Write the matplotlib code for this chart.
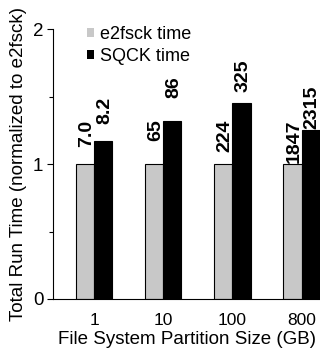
import matplotlib
matplotlib.use("Agg")
import matplotlib.pyplot as plt
from matplotlib.patches import Patch
import numpy as np

plt.rcParams['font.family'] = ['Liberation Sans', 'DejaVu Sans']

categories = ["1", "10", "100", "800"]
e2fsck_norm = [1.0, 1.0, 1.0, 1.0]
sqck_norm = [1.17, 1.32, 1.45, 1.25]
e2fsck_labels = ["7.0", "65", "224", "1847"]
sqck_labels = ["8.2", "86", "325", "2315"]

fig = plt.figure(figsize=(3.2, 3.52), dpi=100)
ax = fig.add_axes([0.166, 0.1506, 0.834, 0.7662])

x = np.arange(len(categories))
w = 0.263
b1 = ax.bar(x - w / 2, e2fsck_norm, w, color='#c8c8c8', edgecolor='black', linewidth=0.8)
b2 = ax.bar(x + w / 2, sqck_norm, w, color='black', edgecolor='black', linewidth=0.8)

for bars, labels in ((b1, e2fsck_labels), (b2, sqck_labels)):
    for rect, lab in zip(bars, labels):
        ax.annotate(lab, (rect.get_x() + rect.get_width() / 2, rect.get_height()),
                    xytext=(1, 32), textcoords='offset points', rotation=90,
                    ha='center', va='top', fontsize=14, fontweight='bold')

ax.set_xlim(-0.592, 3.266)
ax.set_ylim(0, 2)
ax.set_yticks([0, 1, 2])
ax.set_yticks([0.5, 1.5], minor=True)
ax.set_xticks(x)
ax.set_xticklabels(categories)
ax.tick_params(axis='x', length=0, labelsize=12.5, pad=10)
ax.tick_params(axis='y', which='major', length=4, width=0.8, labelsize=13.5, pad=3)
ax.tick_params(axis='y', which='minor', length=3, width=0.8)
for s in ('top', 'right'):
    ax.spines[s].set_visible(False)
ax.spines['left'].set_linewidth(0.8)
ax.spines['bottom'].set_linewidth(0.8)

ax.set_xlabel('File System Partition Size (GB)', fontsize=13.5, labelpad=2)
ax.set_ylabel('Total Run Time (normalized to e2fsck)', fontsize=13.5, labelpad=4)

handles = [Patch(facecolor='#c8c8c8', edgecolor='none', label='e2fsck time'),
           Patch(facecolor='black', edgecolor='none', label='SQCK time')]
ax.legend(handles=handles, loc='upper left', bbox_to_anchor=(0.1, 1.04), frameon=False, fontsize=13,
          handlelength=0.4, handleheight=0.4, handletextpad=0.3, labelspacing=0.3,
          borderaxespad=0)

fig.savefig('out.png', dpi=100)
